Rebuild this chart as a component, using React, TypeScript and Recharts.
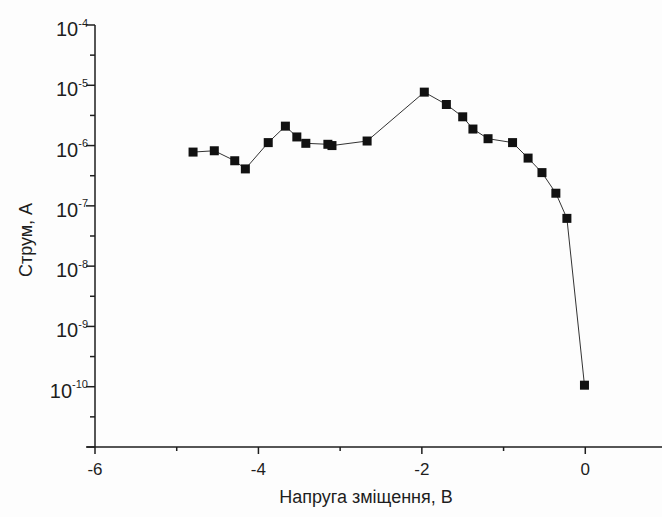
import { LineChart, Line, XAxis, YAxis, Label } from "recharts";

// bias voltage (V) and current (A)
const voltage = [
  -4.8, -4.54, -4.29, -4.16, -3.88, -3.67, -3.53, -3.42, -3.15, -3.1, -2.67,
  -1.97, -1.7, -1.5, -1.375, -1.19, -0.89, -0.7, -0.53, -0.36, -0.225, -0.01,
];
const current = [
  7.8e-7, 8.2e-7, 5.6e-7, 4.1e-7, 1.12e-6, 2.1e-6, 1.39e-6, 1.09e-6, 1.05e-6,
  1.0e-6, 1.19e-6, 7.7e-6, 4.8e-6, 3.0e-6, 1.88e-6, 1.3e-6, 1.12e-6, 6.2e-7,
  3.56e-7, 1.62e-7, 6.2e-8, 1.06e-10,
];

const xTicks = [-6, -5, -4, -3, -2, -1, 0, 1];
const xLabelled = [-6, -4, -2, 0];
const yTickExponents = [
  -11, -10.5, -10, -9.5, -9, -8.5, -8, -7.5, -7, -6.5, -6, -5.5, -5, -4.5, -4,
];
const yLabelled = [-10, -9, -8, -7, -6, -5, -4];

const data = voltage.map((v, i) => ({ v, i: current[i] }));
const yTicks = yTickExponents.map((e) => Math.pow(10, e));

const FONT = '"Liberation Sans", Arial, sans-serif';
const INK = "#1e1e1e";

function XTick(props: any) {
  const { x, y, payload } = props;
  const major = xLabelled.includes(payload.value);
  return (
    <g>
      {payload.value === xTicks[0] && (
        <line x1={x - 8} x2={x} y1={y} y2={y} stroke={INK} strokeWidth={1.5} />
      )}
      <line x1={x} x2={x} y1={y} y2={y + (major ? 7 : 4)} stroke={INK} strokeWidth={1.5} />
      {major && (
        <text x={x} y={y + 28} textAnchor="middle" fontSize={17} fill={INK} fontFamily={FONT}>
          {payload.value}
        </text>
      )}
    </g>
  );
}

function YTick(props: any) {
  const { x, y, payload } = props;
  const e = Math.round(Math.log10(payload.value) * 2) / 2;
  const major = Number.isInteger(e);
  return (
    <g>
      <line x1={x - (major ? 9 : 5)} x2={x} y1={y} y2={y} stroke={INK} strokeWidth={1.5} />
      {yLabelled.includes(e) && (
        <text x={x - 7} y={y + 11} textAnchor="end" fontSize={20} fill={INK} fontFamily={FONT}>
          10
          <tspan fontSize={11} dy={-9.5}>
            {e}
          </tspan>
        </text>
      )}
    </g>
  );
}

function SquareDot(props: any) {
  const { cx, cy } = props;
  if (cx == null || cy == null) return null;
  return <rect x={cx - 4.5} y={cy - 4.5} width={9} height={9} fill="#111" />;
}

export default function App() {
  return (
    <div
      style={{
        position: "absolute",
        left: 0,
        top: 0,
        width: 662,
        height: 517,
        overflow: "hidden",
        background: "#fdfdfd",
      }}
    >
      <LineChart width={680} height={517} data={data} margin={{ top: 25, right: 13, bottom: 40, left: 0 }}>
        <XAxis
          dataKey="v"
          type="number"
          domain={[-6, 1]}
          ticks={xTicks}
          interval={0}
          height={30}
          tickSize={0}
          tickMargin={0}
          tick={<XTick />}
          axisLine={{ stroke: INK, strokeWidth: 1.5 }}
          tickLine={false}
          allowDataOverflow
        >
          <Label
            content={() => (
              <text x={366} y={503} textAnchor="middle" fontSize={18} fill={INK} fontFamily={FONT}>
                Напруга зміщення, В
              </text>
            )}
          />
        </XAxis>
        <YAxis
          dataKey="i"
          type="number"
          scale="log"
          domain={[1e-11, 1e-4]}
          ticks={yTicks}
          interval={0}
          width={95}
          tickSize={0}
          tickMargin={0}
          tick={<YTick />}
          axisLine={{ stroke: INK, strokeWidth: 1.5 }}
          tickLine={false}
          allowDataOverflow
        >
          <Label
            content={() => (
              <text
                x={32}
                y={240}
                transform="rotate(-90 32 240)"
                textAnchor="middle"
                fontSize={18}
                fill={INK}
                fontFamily={FONT}
              >
                Струм, А
              </text>
            )}
          />
        </YAxis>
        <Line
          type="linear"
          dataKey="i"
          stroke="#333"
          strokeWidth={1}
          dot={<SquareDot />}
          activeDot={false}
          isAnimationActive={false}
        />
      </LineChart>
    </div>
  );
}
